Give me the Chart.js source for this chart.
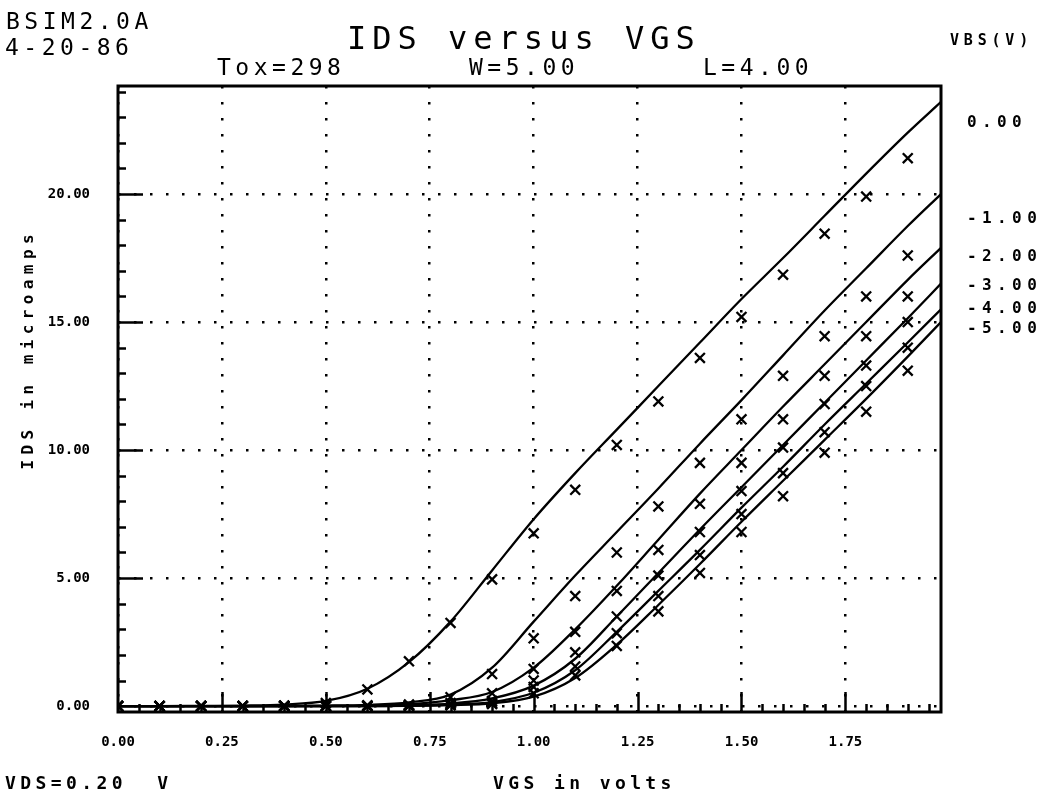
<!DOCTYPE html>
<html>
<head>
<meta charset="utf-8">
<script src="https://cdn.jsdelivr.net/npm/chart.js@4.4.1/dist/chart.umd.min.js"></script>
<style>
  html, body { margin: 0; padding: 0; background: #fff; }
  #wrap { width: 1045px; height: 796px; }
  canvas { display: block; }
</style>
</head>
<body>
<div id="wrap"><canvas id="c" width="1045" height="796"></canvas></div>
<script>
// ---------------- data ----------------
const vgsMeasured = [0, 0.1, 0.2, 0.3, 0.4, 0.5, 0.6, 0.7, 0.8, 0.9, 1.0, 1.1, 1.2, 1.3, 1.4, 1.5, 1.6, 1.7, 1.8, 1.9];
const vgsModel    = [0, 0.1, 0.2, 0.3, 0.4, 0.5, 0.6, 0.7, 0.8, 0.9, 1.0, 1.1, 1.2, 1.3, 1.4, 1.5, 1.6, 1.7, 1.8, 1.9, 1.98];
const vbsValues = [0, -1, -2, -3, -4, -5];

// measured IDS (microamps), markers
const idsMeasVbs0  = [0, 0, 0, 0, 0.02, 0.12, 0.65, 1.75, 3.25, 4.95, 6.75, 8.45, 10.2, 11.9, 13.6, 15.2, 16.85, 18.45, 19.9, 21.4];
const idsMeasVbsM1 = [0, 0, 0, 0, 0, 0.01, 0.03, 0.06, 0.35, 1.25, 2.65, 4.3, 6.0, 7.8, 9.5, 11.2, 12.9, 14.45, 16.0, 17.6];
const idsMeasVbsM2 = [0, 0, 0, 0, 0, 0, 0.01, 0.03, 0.12, 0.5, 1.45, 2.9, 4.5, 6.1, 7.9, 9.5, 11.2, 12.9, 14.45, 16.0];
const idsMeasVbsM3 = [0, 0, 0, 0, 0, 0, 0, 0.02, 0.06, 0.2, 1.0, 2.1, 3.5, 5.1, 6.8, 8.4, 10.1, 11.8, 13.3, 15.0];
const idsMeasVbsM4 = [0, 0, 0, 0, 0, 0, 0, 0.01, 0.04, 0.12, 0.75, 1.55, 2.85, 4.3, 5.9, 7.5, 9.1, 10.7, 12.5, 14.0];
const idsMeasVbsM5 = [0, 0, 0, 0, 0, 0, 0, 0, 0.03, 0.08, 0.5, 1.2, 2.35, 3.7, 5.2, 6.8, 8.2, 9.9, 11.5, 13.1];

// model IDS (microamps), lines
const idsModelVbs0  = [0, 0, 0.01, 0.02, 0.06, 0.2, 0.68, 1.72, 3.3, 5.3, 7.3, 9.1, 10.8, 12.5, 14.2, 15.9, 17.5, 19.15, 20.8, 22.4, 23.6];
const idsModelVbsM1 = [0, 0, 0, 0, 0.01, 0.02, 0.05, 0.15, 0.45, 1.5, 3.3, 5.1, 6.8, 8.5, 10.25, 11.95, 13.7, 15.45, 17.1, 18.75, 20.0];
const idsModelVbsM2 = [0, 0, 0, 0, 0, 0.01, 0.02, 0.07, 0.23, 0.55, 1.5, 3.0, 4.7, 6.5, 8.3, 10.0, 11.7, 13.35, 15.0, 16.65, 17.9];
const idsModelVbsM3 = [0, 0, 0, 0, 0, 0, 0.01, 0.04, 0.1, 0.3, 0.8, 1.85, 3.5, 5.2, 6.9, 8.55, 10.2, 11.85, 13.5, 15.15, 16.5];
const idsModelVbsM4 = [0, 0, 0, 0, 0, 0, 0, 0.02, 0.06, 0.16, 0.52, 1.4, 2.9, 4.5, 6.1, 7.75, 9.35, 11.0, 12.6, 14.2, 15.5];
const idsModelVbsM5 = [0, 0, 0, 0, 0, 0, 0, 0.01, 0.04, 0.11, 0.37, 1.1, 2.4, 3.95, 5.55, 7.2, 8.8, 10.4, 12.0, 13.65, 15.0];

const xTickValues = [0, 0.25, 0.5, 0.75, 1.0, 1.25, 1.5, 1.75];
const xTickLabels = ['0.00', '0.25', '0.50', '0.75', '1.00', '1.25', '1.50', '1.75'];
const yTickValues = [0, 5, 10, 15, 20];
const yTickLabels = ['0.00', '5.00', '10.00', '15.00', '20.00'];

const measSeries  = [idsMeasVbs0, idsMeasVbsM1, idsMeasVbsM2, idsMeasVbsM3, idsMeasVbsM4, idsMeasVbsM5];
const modelSeries = [idsModelVbs0, idsModelVbsM1, idsModelVbsM2, idsModelVbsM3, idsModelVbsM4, idsModelVbsM5];

// ---------------- chart ----------------
const MONO = '"DejaVu Sans Mono", "Liberation Mono", monospace';

const datasets = [];
modelSeries.forEach((arr, i) => {
  datasets.push({
    label: 'model VBS=' + vbsValues[i].toFixed(2),
    data: vgsModel.map((v, k) => ({ x: v, y: arr[k] })),
    showLine: true,
    borderColor: '#000',
    borderWidth: 2.3,
    pointRadius: 0,
    cubicInterpolationMode: 'monotone',
    fill: false
  });
});
measSeries.forEach((arr, i) => {
  datasets.push({
    label: 'measured VBS=' + vbsValues[i].toFixed(2),
    data: vgsMeasured.map((v, k) => ({ x: v, y: arr[k] })),
    showLine: false,
    pointStyle: 'crossRot',
    pointRadius: 7,
    pointBorderWidth: 2.3,
    borderColor: '#000',
    backgroundColor: '#000'
  });
});

const vbsLabelLevels = [22.77, 19.02, 17.54, 16.41, 15.51, 14.73];

const decor = {
  id: 'decor',
  afterDraw(chart) {
    const { ctx, chartArea: a, scales: { x, y } } = chart;
    ctx.save();
    ctx.strokeStyle = '#000';
    ctx.fillStyle = '#000';
    ctx.setLineDash([]);
    // frame
    ctx.lineWidth = 3;
    ctx.strokeRect(a.left, a.top, a.right - a.left, a.bottom - a.top);
    // inward ticks
    ctx.lineWidth = 2.5;
    ctx.beginPath();
    for (let v = 1; v <= 24; v++) {
      if (v > y.max) break;
      const py = Math.round(y.getPixelForValue(v)) + 0.5;
      const len = (v % 5 === 0) ? 25 : 8;
      ctx.moveTo(a.left, py); ctx.lineTo(a.left + len, py);
    }
    for (let i = 1; i * 0.05 < x.max - 0.01; i++) {
      const px = Math.round(x.getPixelForValue(i * 0.05)) + 0.5;
      const len = (i % 5 === 0) ? 20 : 8;
      ctx.moveTo(px, a.bottom); ctx.lineTo(px, a.bottom - len);
    }
    ctx.stroke();

    function txt(s, px, py, size, weight, spacing, align, base) {
      ctx.font = weight + ' ' + size + 'px ' + MONO;
      ctx.letterSpacing = spacing + 'px';
      ctx.textAlign = align || 'left';
      ctx.textBaseline = base || 'alphabetic';
      ctx.fillText(s, px, py);
    }
    // header
    txt('BSIM2.0A', 6, 29, 23, 'normal', 4.5);
    txt('4-20-86', 5, 55, 23, 'normal', 4.5);
    txt('IDS versus VGS', 347, 49, 32, 'normal', 6);
    txt('Tox=298', 217, 75, 23, 'normal', 4.5);
    txt('W=5.00', 469, 75, 23, 'normal', 4.5);
    txt('L=4.00', 703, 75, 23, 'normal', 4.5);
    txt('VBS(V)', 950, 45, 15, 'bold', 4.8);
    // right labels
    vbsValues.forEach((v, i) => {
      txt(v.toFixed(2), 967, y.getPixelForValue(vbsLabelLevels[i]), 16, 'bold', 5.4, 'left', 'middle');
    });
    // bottom
    txt('VDS=0.20  V', 5, 789, 18, 'bold', 4.4);
    txt('VGS in volts', 493, 789, 18, 'bold', 4.4);
    // y title
    ctx.save();
    ctx.translate(29, 352);
    ctx.rotate(-Math.PI / 2);
    txt('IDS in microamps', 2.7, 0, 16, 'bold', 5.4, 'center', 'middle');
    ctx.restore();
    ctx.letterSpacing = '0px';
    ctx.restore();
  }
};

new Chart(document.getElementById('c'), {
  type: 'scatter',
  data: { datasets },
  options: {
    responsive: false,
    devicePixelRatio: 1,
    animation: false,
    events: [],
    layout: { padding: { top: 86, right: 104, left: 0, bottom: 0 } },
    plugins: { legend: { display: false }, tooltip: { enabled: false }, title: { display: false } },
    scales: {
      x: {
        type: 'linear',
        min: 0,
        max: 1.98,
        afterBuildTicks: (s) => { s.ticks = xTickValues.map(v => ({ value: v })); },
        afterFit: (s) => { s.height = 84; },
        ticks: {
          autoSkip: false,
          maxRotation: 0,
          minRotation: 0,
          padding: 22,
          color: '#000',
          font: { family: MONO, size: 14, weight: 'bold' },
          callback: (v, i) => xTickLabels[i]
        },
        grid: { color: '#000', lineWidth: 2.5, drawTicks: false },
        border: { display: false, dash: [2.5, 13.5] }
      },
      y: {
        type: 'linear',
        min: -0.23,
        max: 24.22,
        afterBuildTicks: (s) => { s.ticks = yTickValues.map(v => ({ value: v })); },
        afterFit: (s) => { s.width = 118; },
        ticks: {
          autoSkip: false,
          padding: 28,
          color: '#000',
          font: { family: MONO, size: 14, weight: 'bold' },
          callback: (v, i) => yTickLabels[i]
        },
        grid: { color: '#000', lineWidth: 2.5, drawTicks: false },
        border: { display: false, dash: [2.5, 13.5] }
      }
    }
  },
  plugins: [decor]
});
</script>
</body>
</html>
